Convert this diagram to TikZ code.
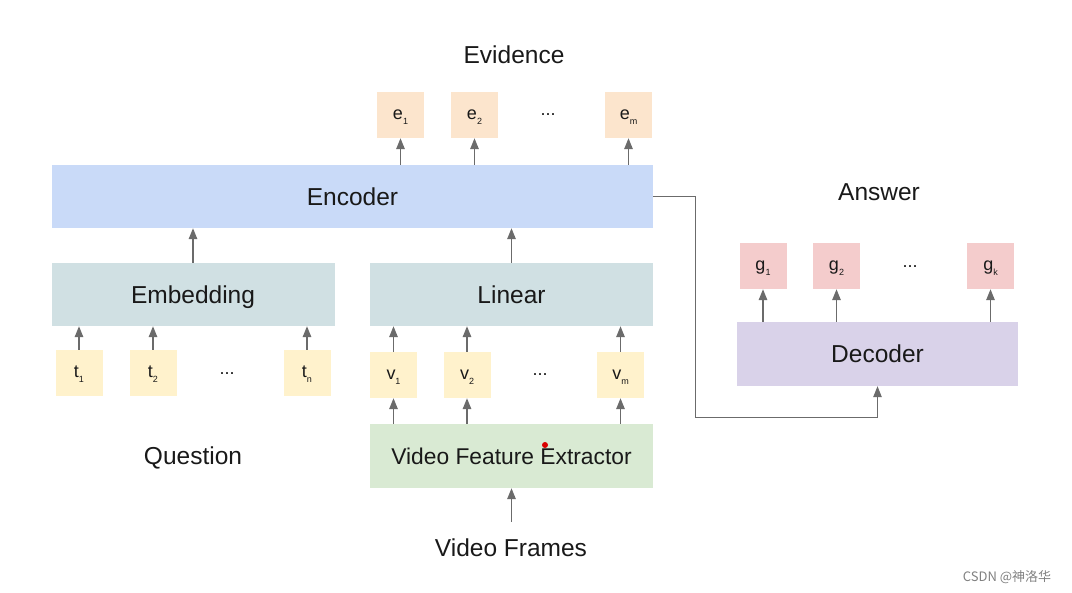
\documentclass[tikz,border=0pt]{standalone}
\usepackage{fontspec}
\setmainfont{Liberation Sans}
\newfontfamily\cjk{Noto Sans CJK SC}
\usetikzlibrary{arrows.meta}

\definecolor{peach}{HTML}{FCE5CD}
\definecolor{encblue}{HTML}{C9DAF8}
\definecolor{greyblue}{HTML}{D0E0E3}
\definecolor{paleyellow}{HTML}{FFF2CC}
\definecolor{palegreen}{HTML}{D9EAD3}
\definecolor{palered}{HTML}{F4CCCC}
\definecolor{palepurple}{HTML}{D9D2E9}
\definecolor{arrowgrey}{HTML}{6B6B6B}

\newcommand\idx[1]{\raisebox{-5pt}[0pt][0pt]{\fontsize{9}{9}\selectfont #1}}

\begin{document}
\begin{tikzpicture}[x=1pt, y=-1pt,
		bigtext/.style={font=\fontsize{24.5}{28}\selectfont, text=black!90, text height=17.5pt, text depth=0pt},
		block/.style={bigtext, inner sep=0pt, minimum height=63pt},
		token/.style={inner sep=0pt, minimum width=47pt, minimum height=46pt, font=\fontsize{18}{20}\selectfont, text=black!90, text height=9.5pt, text depth=0pt},
		dots/.style={font=\fontsize{18}{20}\selectfont, text=black!90, anchor=base},
		arr/.style={draw=arrowgrey, line width=1.4pt, -{Triangle[length=11pt, width=8.5pt]}}]
		
		\useasboundingbox (0,0) rectangle (1072,593);
		
		% bloques
		\node[block, fill=encblue, minimum width=601pt] (enc) at (352.5,196.5) {Encoder};
		\node[block, fill=greyblue, minimum width=283pt] (emb) at (193,294.5) {Embedding};
		\node[block, fill=greyblue, minimum width=283pt] (lin) at (511.5,294.5) {Linear};
		\node[block, fill=palegreen, minimum width=283pt, minimum height=64pt, font=\fontsize{22.8}{26}\selectfont, text height=16.3pt] (vfe) at (511.5,456) {Video Feature Extractor};
		\node[block, fill=palepurple, minimum width=281pt, minimum height=64pt] (dec) at (877.5,354) {Decoder};
		
		% textos
		\node[bigtext] (evid) at (514,55) {Evidence};
		\node[bigtext] (ans) at (879,192) {Answer};
		\node[bigtext] (quest) at (193,456) {Question};
		\node[bigtext] (frames) at (511,548) {Video Frames};
		
		% evidencias
		\node[token, fill=peach] (e1) at (400.5,115) {e\idx{1}};
		\node[token, fill=peach] (e2) at (474.5,115) {e\idx{2}};
		\node[dots] (edots) at (548,116) {...};
		\node[token, fill=peach] (em) at (628.5,115) {e\idx{m}};
		
		% preguntas
		\node[token, fill=paleyellow] (t1) at (79,373) {t\idx{1}};
		\node[token, fill=paleyellow] (t2) at (153,373) {t\idx{2}};
		\node[dots] (tdots) at (227,375) {...};
		\node[token, fill=paleyellow] (tn) at (307,373) {t\idx{n}};
		
		% video
		\node[token, fill=paleyellow] (v1) at (393.5,375) {v\idx{1}};
		\node[token, fill=paleyellow] (v2) at (467,375) {v\idx{2}};
		\node[dots] (vdots) at (540,376) {...};
		\node[token, fill=paleyellow] (vm) at (620.5,375) {v\idx{m}};
		
		% respuestas
		\node[token, fill=palered] (g1) at (763,266) {g\idx{1}};
		\node[token, fill=palered] (g2) at (836.5,266) {g\idx{2}};
		\node[dots] (gdots) at (910,268) {...};
		\node[token, fill=palered] (gk) at (990.5,266) {g\idx{k}};
		
		% flechas
		\draw[arr] (e1 |- enc.north) -- (e1);
		\draw[arr] (e2 |- enc.north) -- (e2);
		\draw[arr] (em |- enc.north) -- (em);
		\draw[arr] (emb) -- (emb |- enc.south);
		\draw[arr] (lin) -- (lin |- enc.south);
		\draw[arr] (t1) -- (t1 |- emb.south);
		\draw[arr] (t2) -- (t2 |- emb.south);
		\draw[arr] (tn) -- (tn |- emb.south);
		\draw[arr] (v1) -- (v1 |- lin.south);
		\draw[arr] (v2) -- (v2 |- lin.south);
		\draw[arr] (vm) -- (vm |- lin.south);
		\draw[arr] (v1 |- vfe.north) -- (v1);
		\draw[arr] (v2 |- vfe.north) -- (v2);
		\draw[arr] (vm |- vfe.north) -- (vm);
		\coordinate (framestop) at (511.5,522);
		\draw[arr] (framestop) -- (vfe);
		\draw[arr] (g1 |- dec.north) -- (g1);
		\draw[arr] (g2 |- dec.north) -- (g2);
		\draw[arr] (gk |- dec.north) -- (gk);
		
		% del encoder al decoder
		\coordinate (bend) at (695,418);
		\draw[arr, line width=1pt] (enc.east) -| (bend) -| (dec.south);
		
		% punto rojo y marca
		\fill[red!85!black] (545,445) circle (3);
		\node[font=\cjk\fontsize{13}{15}\selectfont, text=black!50] (mark) at (1007,577) {CSDN @神洛华};
		
\end{tikzpicture}
\end{document}
